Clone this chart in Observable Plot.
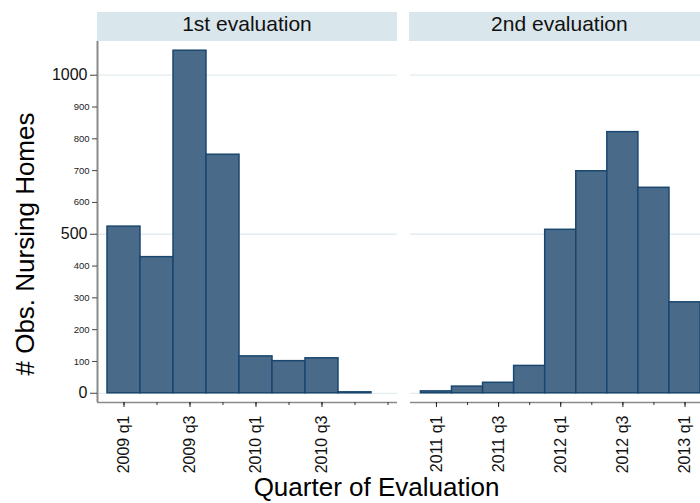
<!DOCTYPE html>
<html><head><meta charset="utf-8">
<script src="https://cdn.jsdelivr.net/npm/d3@7"></script>
<script src="https://cdn.jsdelivr.net/npm/@observablehq/plot@0.6"></script>
<style>
html,body{margin:0;padding:0;background:#fff;}
#chart{position:relative;width:700px;height:503px;overflow:hidden;font-family:"Liberation Sans",Arial,sans-serif;color:#000;}
.strip{position:absolute;top:12px;height:29px;background:#d9e6eb;font-size:21px;line-height:normal;text-align:center;white-space:nowrap;color:#111;}
.panel{position:absolute;top:0;}
.panel text{font-family:"Liberation Sans",Arial,sans-serif;}
.title{position:absolute;font-size:26px;line-height:normal;white-space:nowrap;color:#000;}
</style></head><body>
<div id="chart"></div>
<script>
// ---- data ----
const panelTitles = ["1st evaluation", "2nd evaluation"];
const quarters1 = ["2009 q1","2009 q2","2009 q3","2009 q4","2010 q1","2010 q2","2010 q3","2010 q4"];
const counts1   = [524, 428, 1077, 750, 116, 101, 110, 3];
const quarters2 = ["2011 q1","2011 q2","2011 q3","2011 q4","2012 q1","2012 q2","2012 q3","2012 q4","2013 q1"];
const counts2   = [6, 21, 33, 86, 514, 698, 821, 646, 286];
const xTickLabels1 = ["2009 q1","2009 q3","2010 q1","2010 q3"];
const xTickLabels2 = ["2011 q1","2011 q3","2012 q1","2012 q3","2013 q1"];
const yMajorTicks = [0, 500, 1000];
const yMinorTicks = [100, 200, 300, 400, 600, 700, 800, 900];
const yTitle = "# Obs. Nursing Homes";
const xTitle = "Quarter of Evaluation";

// ---- helpers ----
const qIndex = s => { const [y, q] = s.split(" q"); return (+y - 2009) * 4 + (+q - 1); };
const data1 = quarters1.map((k, i) => ({q: qIndex(k), n: counts1[i]}));
const data2 = quarters2.map((k, i) => ({q: qIndex(k), n: counts2[i]}));

const yDomain = [-29, 1106];
const barFill = "#4a6a8a", barStroke = "#1a476f", gridColor = "#e3ecef", axisColor = "#8a8a8a";

function panel({data, xDomain, tickLabels, showY, width, marginLeft, marginRight}) {
  const majors = tickLabels.map(qIndex);
  const minors = d3.range(Math.ceil(xDomain[0]), Math.floor(xDomain[1]) + 1);
  const marks = [
    Plot.ruleY(yMajorTicks, {stroke: gridColor, strokeWidth: 1.3}),
    Plot.rectY(data, {x1: d => d.q - 0.5, x2: d => d.q + 0.5, y: "n", fill: barFill, stroke: barStroke, strokeWidth: 1.5}),
    Plot.ruleY([yDomain[0]], {stroke: axisColor, strokeWidth: 1.3}),
    Plot.axisX(minors, {tickSize: 3, tickFormat: () => "", label: null, stroke: "#333"}),
    Plot.axisX(majors, {tickSize: 5, tickPadding: 8, tickRotate: -90, fontSize: 16, label: null, stroke: "#222", fill: "#111",
      tickFormat: i => tickLabels[majors.indexOf(i)]})
  ];
  if (showY) {
    marks.push(
      Plot.ruleX([xDomain[0]], {stroke: axisColor, strokeWidth: 2}),
      Plot.axisY(yMajorTicks, {tickSize: 7, tickPadding: 3, fontSize: 16, label: null, stroke: "#444", fill: "#111",
        tickFormat: d => String(d)}),
      Plot.axisY(yMinorTicks, {tickSize: 5, tickPadding: 3, fontSize: 9.5, label: null, stroke: "#444", fill: "#222",
        tickFormat: d => String(d)})
    );
  } else {
    marks.push(Plot.axisY({ticks: [], label: null, tickSize: 0, tickFormat: () => ""}));
  }
  return Plot.plot({
    width, height: 480,
    marginLeft, marginRight, marginTop: 41, marginBottom: 78,
    x: {domain: xDomain},
    y: {domain: yDomain},
    style: {fontFamily: '"Liberation Sans", Arial, sans-serif', color: "#222", background: "transparent", overflow: "visible"},
    marks
  });
}

const chart = document.getElementById("chart");

const p1 = panel({data: data1, xDomain: [-0.803, 8.288], tickLabels: xTickLabels1, showY: true, width: 397, marginLeft: 97, marginRight: 0});
p1.classList.add("panel"); p1.style.left = "0px";
chart.appendChild(p1);

const p2 = panel({data: data2, xDomain: [7.165, 16.82], tickLabels: xTickLabels2, showY: false, width: 300, marginLeft: 0, marginRight: 0});
p2.classList.add("panel"); p2.style.left = "409.5px";
chart.appendChild(p2);

// strips
[[96.7, 300.6], [409.3, 300.2]].forEach(([l, w], i) => {
  const s = document.createElement("div");
  s.className = "strip";
  s.style.left = l + "px"; s.style.width = w + "px";
  s.textContent = panelTitles[i];
  chart.appendChild(s);
});

// axis titles
const yt = document.createElement("div");
yt.className = "title"; yt.textContent = yTitle;
yt.style.left = "24.5px"; yt.style.top = "243.5px";
yt.style.transform = "translate(-50%,-50%) rotate(-90deg)";
chart.appendChild(yt);

const xt = document.createElement("div");
xt.className = "title"; xt.textContent = xTitle;
xt.style.left = "376.5px"; xt.style.top = "471.5px";
xt.style.transform = "translateX(-50%)";
chart.appendChild(xt);
</script>
</body></html>
